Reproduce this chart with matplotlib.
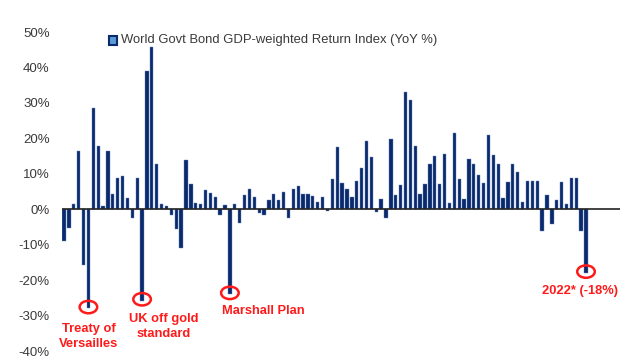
import matplotlib
matplotlib.use("Agg")
import matplotlib.pyplot as plt
from matplotlib.patches import Ellipse, Rectangle
import numpy as np

years = list(range(1915, 2023))
returns = [
    -9.1, -5.2, 1.6, 16.4, -15.8, -28.0, 28.5, 17.9, 0.8, 16.4,
    4.2, 8.7, 9.5, 3.2, -2.6, 8.9, -25.8, 39.0, 45.7, 12.8,
    1.4, 0.9, -1.5, -5.7, -10.9, 14.0, 7.0, 1.9, 1.4, 5.5,
    4.7, 3.5, -1.7, 1.3, -24.0, 1.5, -3.9, 4.0, 5.8, 3.5,
    -1.2, -1.7, 2.5, 4.4, 2.7, 4.9, -2.6, 5.8, 6.6, 4.4,
    4.3, 3.6, 2.1, 3.5, -0.6, 8.4, 17.5, 7.3, 5.8, 3.5,
    7.9, 11.6, 19.3, 14.8, -0.8, 3.0, -2.5, 19.8, 3.9, 6.8,
    33.1, 30.8, 17.9, 4.4, 7.2, 12.7, 14.9, 7.1, 15.7, 1.8,
    21.6, 8.5, 2.9, 14.1, 12.8, 9.7, 7.5, 20.9, 15.2, 12.7,
    3.3, 7.6, 12.9, 10.6, 2.1, 8.0, 8.0, 8.0, -6.2, 4.0,
    -4.2, 2.6, 7.6, 1.4, 8.9, 8.7, -6.0, -18.0,
]

events = [1920, 1931, 1949, 2022]
event_labels = ["Treaty of\nVersailles", "UK off gold\nstandard", "Marshall Plan", "2022* (-18%)"]
label_pos = [(1920.0, -35.8), (1935.4, -33.2), (1955.8, -28.6), (2020.8, -23.2)]

yticks = [50, 40, 30, 20, 10, 0, -10, -20, -30, -40]
ytick_labels = [f"{t}%" for t in yticks]

navy = "#0b2a6b"
red = "#ff1a1a"
narrow = ["Liberation Sans Narrow", "Liberation Sans", "DejaVu Sans"]

fig = plt.figure(figsize=(6.4, 3.6), dpi=100)
ax = fig.add_axes([0.097, 0.025, 0.872, 0.886])

ax.bar(years, returns, width=0.68, color=navy, edgecolor="#6a86c2", linewidth=0.3, zorder=2)
ax.axhline(0, color="#222222", lw=1.2, zorder=3)

ax.set_xlim(1914.6, 2029)
ax.set_ylim(-40, 50)
ax.set_yticks(yticks)
ax.set_yticklabels(ytick_labels, family="Liberation Sans", fontsize=9.5, color="#3a3a3a")
ax.tick_params(axis="y", length=0, pad=9)
ax.set_xticks([])
for s in ax.spines.values():
    s.set_visible(False)

# circles and labels
for yr, lab, (lx, ly) in zip(events, event_labels, label_pos):
    v = returns[years.index(yr)]
    ax.add_patch(Ellipse((yr, v + 0.4), 3.6, 3.5, fill=False, ec=red, lw=1.8, zorder=4))
    ax.text(lx, ly, lab, color=red, family=narrow, fontweight="bold", fontsize=9.3,
            ha="center", va="center", linespacing=1.35, zorder=5)

# legend
fig.patches.append(Rectangle((109 / 640, 1 - 45 / 360), 8 / 640, 9 / 360, transform=fig.transFigure,
                             fc="#5b9bd5", ec=navy, lw=1.5))
fig.text(121 / 640, 1 - 40 / 360, "World Govt Bond GDP-weighted Return Index (YoY %)",
         family="Liberation Sans", fontsize=9.4, color="#3a3a3a", va="center", ha="left")

fig.savefig("out.png", dpi=100)
